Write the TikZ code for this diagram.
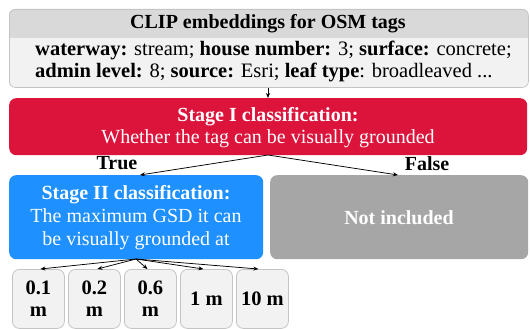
\documentclass[tikz,border=0pt]{standalone}
\usepackage{fontspec}
\setmainfont{Liberation Serif}
\usetikzlibrary{arrows.meta}
\definecolor{headgray}{HTML}{D9D9D9}
\definecolor{bodygray}{HTML}{F2F2F2}
\definecolor{edgegray}{HTML}{C4C4C4}
\definecolor{stageone}{HTML}{DC143C}
\definecolor{stagetwo}{HTML}{1E90FF}
\definecolor{dropped}{HTML}{A6A6A6}
\begin{document}
\begin{tikzpicture}[x=1pt,y=-1pt,
  font=\fontsize{20}{23}\selectfont,
  panel/.style={rounded corners=7pt, anchor=north west, inner sep=0pt},
  tagline/.style={anchor=west, inner sep=0pt, font=\fontsize{20.5}{23}\selectfont},
  gsd/.style={panel, draw=edgegray, fill=bodygray, line width=0.8pt,
    minimum width=52pt, minimum height=59pt, align=center, font=\fontsize{20.5}{22}\selectfont\bfseries},
  arr/.style={-{Stealth[length=5pt,width=4pt]}, line width=0.75pt}]
\useasboundingbox (0,0) rectangle (530,329);

% OSM tag panel with a darker title band
\begin{scope}
  \clip[rounded corners=6pt] (9,9) rectangle (528,87);
  \fill[bodygray] (9,9) rectangle (528,87);
  \fill[headgray] (9,9) rectangle (528,38);
\end{scope}
\node[panel, draw=edgegray, line width=0.8pt, minimum width=519pt, minimum height=78pt, rounded corners=6pt] (tags) at (9,9) {};
\node (title) at (268,24) {\bfseries CLIP embeddings for OSM tags};
\node[tagline] (lineA) at (35,50) {\textbf{waterway:} stream; \textbf{house number:} 3; \textbf{surface:} concrete;};
\node[tagline] (lineB) at (35,72) {\textbf{admin level:} 8; \textbf{source:} Esri; \textbf{leaf type}: broadleaved ...};

% stage I
\node[panel, fill=stageone, minimum width=518pt, minimum height=57pt] (stage1) at (9,98) {};
\node[text=white] (s1a) at (268,117) {\bfseries Stage I classification:};
\node[text=white] (s1b) at (268,139) {Whether the tag can be visually grounded};

% stage II and excluded branch
\node[panel, fill=stagetwo, minimum width=254pt, minimum height=84pt] (stage2) at (9,175) {};
\node[text=white, align=center] (s2) at (136,218) {\textbf{Stage II classification:}\\The maximum GSD it can\\be visually grounded at};
\node[panel, fill=dropped, minimum width=258pt, minimum height=84pt] (excl) at (270,175) {};
\node[text=white] (exclt) at (399,218) {\bfseries Not included};

\node[inner sep=0pt] (true) at (117,163) {\bfseries True};
\node[inner sep=0pt] (false) at (427,164) {\bfseries False};

% GSD classes
\node[gsd] (g1) at (12,269) {0.1\\m};
\node[gsd] (g2) at (68,269) {0.2\\m};
\node[gsd] (g3) at (124,269) {0.6\\m};
\node[gsd] (g4) at (180,269) {1 m};
\node[gsd] (g5) at (236,269) {10 m};

% connectors
\coordinate (s1bot) at (268,155);
\coordinate (s2bot) at (136,259);
\draw[arr] (tags.south -| s1bot) -- (stage1.north -| s1bot);
\draw[arr] (s1bot) -- (140,175);
\draw[arr] (s1bot) -- (398,175);
\draw[arr] (s2bot) -- ([xshift=2pt]g1.north);
\draw[arr] (s2bot) -- ([xshift=3pt]g2.north);
\draw[arr] (s2bot) -- ([xshift=-3pt]g3.north);
\draw[arr] (s2bot) -- ([xshift=-3pt]g4.north);
\draw[arr] (s2bot) -- ([xshift=-4pt]g5.north);
\end{tikzpicture}
\end{document}
